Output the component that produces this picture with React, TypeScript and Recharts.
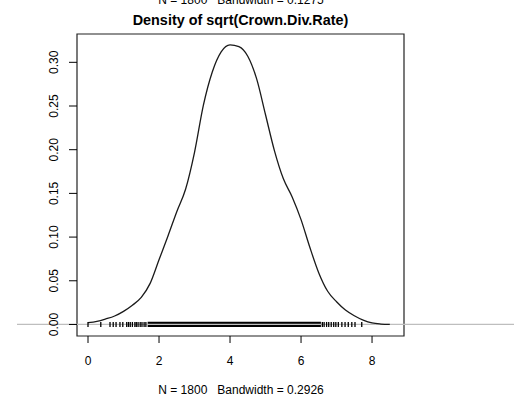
import React from 'react'
import { ComposedChart, Line, Scatter, XAxis, YAxis, ReferenceLine, ReferenceArea } from 'recharts'

// density estimate of sqrt(Crown.Div.Rate)
const densityX = [0, 0.25, 0.5, 0.75, 1, 1.25, 1.5, 1.75, 2, 2.25, 2.5, 2.75, 3, 3.25, 3.5, 3.75, 4, 4.25, 4.5, 4.75, 5, 5.25, 5.5, 5.75, 6, 6.25, 6.5, 6.75, 7, 7.25, 7.5, 7.75, 8, 8.25, 8.5]
const densityY = [0.002, 0.0035, 0.0063, 0.0097, 0.015, 0.022, 0.031, 0.047, 0.074, 0.101, 0.129, 0.155, 0.197, 0.251, 0.289, 0.312, 0.32, 0.318, 0.307, 0.281, 0.24, 0.199, 0.167, 0.146, 0.12, 0.088, 0.059, 0.038, 0.026, 0.0165, 0.01, 0.005, 0.0017, 0.0005, 0.0001]

// rug: isolated observations, plus the solid band where they overlap
const rugX = [0, 0.36, 0.62, 0.71, 0.79, 0.9, 0.98, 1.09, 1.14, 1.19, 1.25, 1.32, 1.36, 1.41, 1.47, 1.52, 1.58, 1.63, 6.6, 6.65, 6.72, 6.78, 6.85, 6.92, 6.98, 7.05, 7.15, 7.24, 7.33, 7.43, 7.52, 7.71]
const rugBand = [1.68, 6.56]

const xTicks = [0, 2, 4, 6, 8]
const yTicks = [0, 0.05, 0.1, 0.15, 0.2, 0.25, 0.3]
const xDomain = [-0.31, 8.9]
const yDomain = [-0.0132, 0.3324]

const title = 'Density of sqrt(Crown.Div.Rate)'
const topNote = 'N = 1800   Bandwidth = 0.1275'
const xLabel = 'N = 1800   Bandwidth = 0.2926'

const FONT = '"Liberation Sans", Arial, sans-serif'

const curve = densityX.map((x, i) => ({ x, y: densityY[i] }))
const rug = rugX.map((x) => ({ x, y: 0 }))

const XTick = (props: any) => {
  const { x, payload } = props
  return (
    <text x={x} y={365} textAnchor="middle" fontSize={12} fontFamily={FONT} fill="#000">
      {payload.value}
    </text>
  )
}

const YTick = (props: any) => {
  const { y, payload } = props
  const cx = 54
  return (
    <text x={cx} y={y} dy="0.35em" textAnchor="middle" fontSize={12} fontFamily={FONT} fill="#000"
      transform={`rotate(-90, ${cx}, ${y})`}>
      {Number(payload.value).toFixed(2)}
    </text>
  )
}

const RugTick = (props: any) => {
  const { cx, cy } = props
  return <line x1={cx} x2={cx} y1={cy - 2.5} y2={cy + 2.5} stroke="#000" strokeWidth={1.3} />
}

export default function App() {
  return (
    <div style={{ position: 'absolute', left: 0, top: 0, width: 514, height: 397, background: '#fff' }}>
      <ComposedChart width={514} height={397} margin={{ top: 34, right: 110, bottom: 0, left: 0 }}>
        <XAxis dataKey="x" type="number" domain={xDomain} ticks={xTicks} allowDataOverflow
          height={61} axisLine={false} tickSize={7} tickLine={{ stroke: '#000' }} tick={<XTick />} />
        <YAxis type="number" domain={yDomain} ticks={yTicks} allowDataOverflow
          width={77} axisLine={false} tickSize={8} tickLine={{ stroke: '#000' }} tick={<YTick />} />
        <ReferenceLine segment={[{ x: -2, y: 0 }, { x: 12, y: 0 }]} ifOverflow="visible" stroke="#bebebe" strokeWidth={1.2} />
        <ReferenceArea x1={rugBand[0]} x2={rugBand[1]} y1={-0.003} y2={0.003} fill="#000" fillOpacity={1} stroke="none" />
        <Scatter data={rug} dataKey="y" shape={<RugTick />} isAnimationActive={false} />
        <Line data={curve} dataKey="y" type="monotone" stroke="#1a1a1a" strokeWidth={1.3} dot={false} isAnimationActive={false} />
        <ReferenceArea x1={xDomain[0]} x2={xDomain[1]} y1={yDomain[0]} y2={yDomain[1]} fill="none" stroke="#222" strokeWidth={1.2} />
      </ComposedChart>
      <svg width={514} height={397} style={{ position: 'absolute', left: 0, top: 0, pointerEvents: 'none' }}>
        <text x={241} y={3.5} textAnchor="middle" fontSize={12} fontFamily={FONT} fill="#000" style={{ whiteSpace: 'pre' }}>{topNote}</text>
        <text x={240.5} y={25} textAnchor="middle" fontSize={14.4} fontWeight="bold" fontFamily={FONT} fill="#000">{title}</text>
        <text x={241} y={394} textAnchor="middle" fontSize={12} fontFamily={FONT} fill="#000" style={{ whiteSpace: 'pre' }}>{xLabel}</text>
      </svg>
    </div>
  )
}
